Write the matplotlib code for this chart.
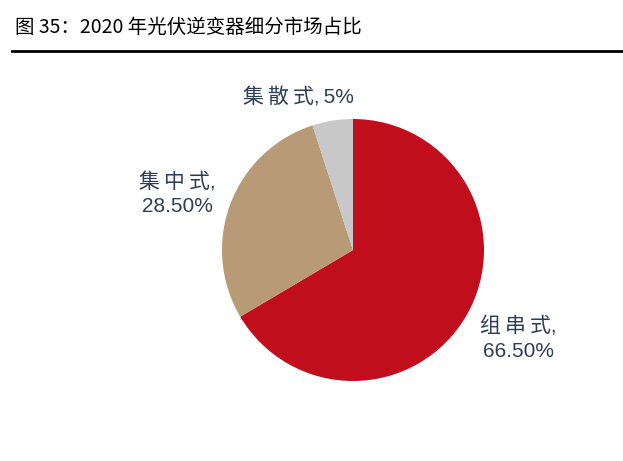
import matplotlib
matplotlib.use("Agg")
import matplotlib.pyplot as plt

categories = ["组串式", "集中式", "集散式"]
values = [66.5, 28.5, 5.0]
value_labels = ["66.50%", "28.50%", "5%"]
colors = ["#C10E1D", "#B99A77", "#C8C8C8"]

plt.rcParams['font.family'] = ['Liberation Sans', 'Noto Sans CJK SC', 'DejaVu Sans']

W, H = 623, 461
fig = plt.figure(figsize=(W / 100, H / 100), dpi=100)

cx, cy, r = 353, 250, 131
ax = fig.add_axes([(cx - r) / W, (H - cy - r) / H, 2 * r / W, 2 * r / H])
ax.pie(values, colors=colors, startangle=90, counterclock=False, radius=1,
       wedgeprops=dict(linewidth=0))
ax.set_xlim(-1, 1)
ax.set_ylim(-1, 1)
ax.set_aspect('equal')
ax.axis('off')

txt_color = "#2E3D57"
label_pos = [(1.265, -0.675), (-1.34, 0.43), (-0.42, 1.165)]
for i, (cat, lab) in enumerate(zip(categories, value_labels)):
    spaced = "\u2009".join(cat)
    if i == 2:
        s = f"{spaced},\u2009{lab}"
    else:
        s = f"{spaced},\n{lab}"
    ax.text(label_pos[i][0], label_pos[i][1], s, ha='center', va='center',
            fontsize=15, color=txt_color, linespacing=1.4)

fig.text(15 / W, 1 - 27 / H, "图 35：2020 年光伏逆变器细分市场占比",
         fontsize=14, ha='left', va='center', color='black',
         family=['Noto Sans CJK SC', 'DejaVu Sans'])
fig.add_artist(plt.Line2D([12 / W, 1], [1 - 51 / H, 1 - 51 / H],
                          transform=fig.transFigure, color='black', linewidth=2))

fig.savefig("out.png", dpi=100)
